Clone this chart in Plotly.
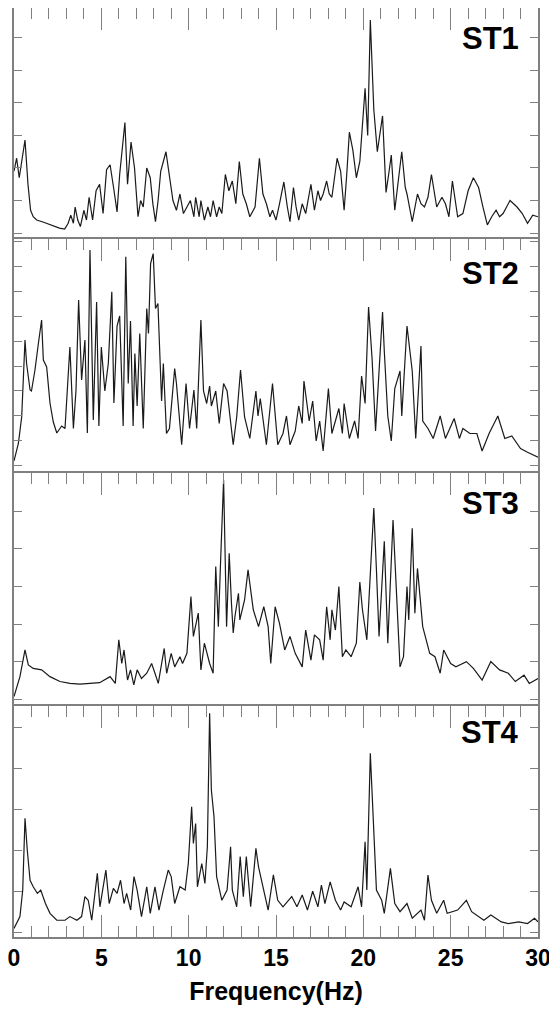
import plotly.graph_objects as go

# ---------------- data ----------------
st1_freq = [0, 0.15, 0.3, 0.45, 0.63, 0.8, 0.95, 1.1, 1.3, 1.7, 2.2, 2.6, 2.9, 3.1, 3.25, 3.4, 3.5, 3.65, 3.8, 4.0,
            4.15, 4.3, 4.5, 4.7, 4.9, 5.1, 5.3, 5.5, 5.7, 5.9, 6.05, 6.2, 6.35, 6.5, 6.7, 6.9, 7.1, 7.25, 7.4, 7.6,
            7.8, 7.95, 8.1, 8.25, 8.4, 8.7, 8.9, 9.1, 9.3, 9.5, 9.7, 9.9, 10.1, 10.3, 10.4, 10.6, 10.7, 10.9, 11.1, 11.25,
            11.4, 11.6, 11.75, 11.9, 12.1, 12.3, 12.5, 12.7, 12.9, 13.1, 13.3, 13.5, 13.8, 14.05, 14.25, 14.45, 14.65, 14.8, 15.0, 15.2,
            15.45, 15.65, 15.8, 16.0, 16.15, 16.3, 16.5, 16.7, 16.85, 17.0, 17.2, 17.4, 17.55, 17.7, 17.9, 18.05, 18.2, 18.35, 18.5, 18.7,
            18.9, 19.05, 19.2, 19.4, 19.6, 19.8, 20.0, 20.1, 20.25, 20.4, 20.6, 20.8, 21.1, 21.3, 21.45, 21.6, 21.8, 22.0, 22.2, 22.4,
            22.5, 22.8, 23.1, 23.3, 23.5, 23.7, 23.9, 24.2, 24.5, 24.7, 24.9, 25.1, 25.25, 25.4, 25.7, 26.0, 26.3, 26.6, 26.85, 27.1,
            27.35, 27.6, 27.8, 28.0, 28.2, 28.4, 28.6, 28.8, 29.1, 29.4, 29.7, 30.0]
st1_amp = [1.9, 2.3, 1.7, 2.2, 2.86, 1.5, 0.7, 0.5, 0.4, 0.33, 0.22, 0.15, 0.12, 0.3, 0.55, 0.3, 0.8, 0.4, 0.2, 0.7,
           0.4, 1.1, 0.4, 1.3, 1.5, 0.6, 1.95, 2.1, 1.4, 0.65, 1.8, 2.55, 3.4, 1.5, 2.8, 2.0, 0.5, 1.0, 0.8, 2.0,
           1.7, 0.9, 0.35, 1.0, 1.9, 2.5, 1.8, 1.0, 0.7, 1.2, 0.6, 0.8, 1.0, 0.5, 1.1, 0.5, 1.0, 0.4, 0.8, 0.5,
           1.0, 0.5, 0.8, 0.6, 1.8, 1.3, 1.6, 0.9, 2.2, 1.2, 0.9, 0.5, 0.8, 2.3, 1.2, 0.9, 0.5, 0.7, 0.4, 0.9,
           1.57, 0.8, 0.35, 1.4, 0.8, 0.4, 0.9, 0.6, 1.0, 1.5, 0.7, 1.3, 1.0, 1.2, 1.6, 1.2, 1.1, 1.8, 2.3, 1.9,
           0.7, 1.8, 3.1, 2.55, 1.7, 2.2, 3.6, 4.45, 3.0, 6.55, 3.8, 2.5, 3.6, 1.25, 1.8, 2.4, 0.7, 1.6, 2.5, 1.4,
           1.2, 0.35, 1.2, 0.9, 0.8, 1.1, 1.8, 0.8, 1.1, 0.9, 0.5, 1.6, 1.0, 0.5, 0.6, 1.3, 1.7, 1.4, 0.8, 0.25,
           0.5, 0.7, 0.5, 0.6, 0.8, 1.0, 0.9, 0.8, 0.6, 0.3, 0.55, 0.5]

st2_freq = [0, 0.25, 0.44, 0.63, 0.72, 0.92, 1.0, 1.2, 1.4, 1.58, 1.68, 1.87, 2.06, 2.25, 2.45, 2.6, 2.73, 2.92, 3.0, 3.2,
            3.4, 3.55, 3.7, 3.87, 4.06, 4.2, 4.35, 4.54, 4.73, 4.86, 5.0, 5.2, 5.4, 5.6, 5.72, 5.9, 6.05, 6.25, 6.4, 6.54,
            6.67, 6.82, 6.92, 7.05, 7.2, 7.4, 7.6, 7.7, 7.82, 7.97, 8.1, 8.24, 8.45, 8.55, 8.73, 8.9, 9.2, 9.3, 9.6, 9.85,
            10.05, 10.3, 10.46, 10.7, 10.85, 11.03, 11.2, 11.3, 11.55, 11.75, 12.0, 12.2, 12.55, 12.75, 12.97, 13.2, 13.5, 13.85, 13.97, 14.1,
            14.45, 14.8, 15.1, 15.4, 15.6, 15.8, 16.1, 16.3, 16.5, 16.6, 16.9, 17.1, 17.3, 17.5, 17.7, 18.0, 18.2, 18.6, 18.8, 18.9,
            19.2, 19.5, 19.7, 19.9, 20.1, 20.3, 20.5, 20.7, 20.9, 21.1, 21.2, 21.4, 21.6, 21.8, 22.1, 22.2, 22.5, 22.8, 23.0, 23.3,
            23.4, 23.7, 24.0, 24.4, 24.7, 25.2, 25.5, 25.7, 26.1, 26.5, 26.8, 27.2, 27.7, 28.1, 28.5, 29.0, 29.4, 30.0]
st2_amp = [0.2, 0.9, 1.96, 5.04, 4.1, 3.04, 3.0, 3.84, 4.92, 5.84, 4.24, 3.96, 2.52, 1.76, 1.32, 1.5, 1.6, 1.5, 2.5, 4.76,
           1.5, 3.04, 6.64, 3.44, 5.04, 1.32, 8.64, 1.84, 6.56, 1.6, 4.76, 3.0, 4.1, 6.97, 2.52, 5.6, 6.0, 1.6, 8.37, 3.3,
           5.8, 1.6, 4.5, 2.4, 5.3, 1.5, 6.3, 5.3, 8.1, 8.5, 6.3, 6.5, 2.6, 4.1, 1.3, 1.5, 3.9, 3.3, 0.85, 3.3,
           1.5, 3.04, 1.5, 5.84, 3.0, 2.5, 3.2, 2.4, 3.0, 1.7, 3.3, 3.0, 0.85, 1.96, 3.84, 1.96, 1.1, 3.0, 2.0, 2.7,
           0.85, 3.3, 0.85, 1.3, 2.0, 0.85, 1.4, 2.4, 1.7, 3.4, 1.8, 2.6, 1.0, 1.8, 0.6, 3.1, 1.3, 2.3, 1.3, 2.5,
           1.1, 1.8, 1.1, 3.6, 2.5, 6.36, 4.3, 1.4, 3.8, 6.16, 4.6, 2.0, 1.0, 3.1, 3.8, 2.0, 5.6, 3.8, 1.1, 4.8,
           1.8, 1.5, 1.1, 2.0, 1.1, 1.9, 1.1, 1.5, 1.3, 1.3, 0.6, 1.3, 2.0, 1.1, 1.2, 0.7, 0.55, 0.35]

st3_freq = [0, 0.34, 0.63, 0.82, 1.1, 1.58, 2.06, 2.63, 3.2, 3.77, 4.35, 4.9, 5.5, 5.8, 6.0, 6.17, 6.3, 6.5, 6.67, 6.86,
            7.05, 7.3, 7.6, 7.88, 8.07, 8.26, 8.6, 8.74, 9.0, 9.2, 9.5, 9.65, 9.9, 10.13, 10.27, 10.55, 10.7, 10.9, 11.2, 11.4,
            11.55, 11.7, 11.83, 12.0, 12.17, 12.32, 12.45, 12.55, 12.65, 12.85, 12.93, 13.2, 13.4, 13.7, 14.0, 14.3, 14.55, 14.7, 14.95, 15.2,
            15.5, 15.8, 16.1, 16.5, 16.7, 17.0, 17.2, 17.5, 17.7, 17.9, 18.1, 18.2, 18.4, 18.6, 18.8, 19.0, 19.3, 19.6, 19.8, 19.95,
            20.2, 20.45, 20.6, 20.75, 20.9, 21.2, 21.4, 21.7, 21.85, 22.1, 22.3, 22.5, 22.6, 22.8, 22.95, 23.1, 23.4, 23.6, 23.8, 24.1,
            24.4, 24.6, 25.0, 25.3, 25.9, 26.3, 26.8, 27.3, 27.8, 28.3, 28.7, 29.2, 29.5, 30.0]
st3_amp = [0.07, 0.6, 1.31, 0.91, 0.82, 0.78, 0.6, 0.47, 0.42, 0.4, 0.42, 0.44, 0.6, 0.42, 1.58, 0.95, 1.31, 0.51, 0.78, 0.38,
           0.78, 0.55, 0.69, 0.95, 0.69, 0.42, 1.35, 0.69, 1.22, 0.86, 1.13, 0.95, 1.22, 2.73, 1.67, 2.29, 0.78, 1.49, 0.95, 0.69,
           3.53, 1.93, 3.7, 5.83, 1.93, 3.88, 2.55, 1.76, 2.2, 2.82, 2.11, 2.64, 3.44, 2.38, 1.93, 2.46, 1.93, 0.95, 2.46, 2.02,
           1.31, 1.67, 1.22, 0.86, 1.84, 1.04, 1.71, 1.58, 1.04, 2.46, 1.58, 2.38, 1.84, 3.0, 1.13, 1.31, 1.13, 1.49, 3.12, 2.38,
           1.58, 3.7, 5.09, 3.44, 1.67, 4.2, 1.49, 4.77, 3.26, 0.86, 1.13, 3.0, 2.11, 4.55, 2.29, 3.48, 1.93, 1.58, 1.22, 1.13,
           0.69, 1.31, 0.95, 0.86, 1.0, 0.82, 0.51, 1.0, 0.78, 0.69, 0.47, 0.64, 0.42, 0.55]

st4_freq = [0, 0.34, 0.5, 0.63, 0.76, 0.92, 1.1, 1.34, 1.53, 1.8, 2.06, 2.45, 2.92, 3.2, 3.6, 3.87, 4.06, 4.25, 4.45, 4.77,
            4.92, 5.26, 5.45, 5.69, 5.9, 6.1, 6.3, 6.45, 6.68, 6.87, 7.05, 7.3, 7.6, 7.8, 8.07, 8.3, 8.55, 8.83, 9.0, 9.2,
            9.5, 9.8, 9.98, 10.17, 10.27, 10.4, 10.5, 10.75, 10.93, 11.07, 11.2, 11.3, 11.45, 11.6, 11.9, 12.2, 12.4, 12.5, 12.75, 12.95,
            13.13, 13.3, 13.55, 13.85, 14.0, 14.3, 14.55, 14.85, 15.1, 15.4, 15.9, 16.2, 16.5, 16.8, 17.1, 17.4, 17.6, 17.8, 18.1, 18.4,
            18.7, 18.9, 19.3, 19.7, 19.9, 20.1, 20.2, 20.4, 20.55, 20.75, 21.05, 21.2, 21.55, 21.8, 22.1, 22.5, 22.8, 23.3, 23.5, 23.7,
            23.9, 24.2, 24.6, 24.8, 25.4, 25.9, 26.2, 26.6, 26.9, 27.3, 27.9, 28.3, 28.9, 29.4, 29.8, 30.0]
st4_amp = [0.09, 0.38, 1.03, 2.79, 2.01, 1.27, 1.11, 0.95, 1.03, 0.7, 0.46, 0.29, 0.29, 0.38, 0.29, 0.38, 0.87, 0.78, 0.29, 1.44,
           0.62, 1.52, 0.7, 1.07, 0.95, 1.27, 0.7, 0.95, 0.54, 1.36, 1.03, 0.38, 1.11, 0.46, 1.11, 0.54, 1.03, 1.52, 1.36, 0.7,
           1.11, 1.03, 1.68, 3.07, 2.17, 2.66, 1.11, 1.68, 1.19, 2.09, 5.36, 3.48, 2.83, 1.36, 0.78, 1.03, 2.09, 1.03, 0.62, 1.85,
           0.87, 1.85, 0.62, 2.05, 1.6, 1.03, 0.54, 1.4, 0.78, 0.62, 0.87, 0.62, 0.91, 0.54, 1.0, 0.62, 1.15, 0.7, 1.23, 0.78,
           0.54, 0.74, 0.62, 1.11, 0.62, 2.21, 1.03, 4.38, 2.99, 1.03, 0.78, 0.46, 1.56, 0.7, 0.5, 0.7, 0.34, 0.54, 0.29, 1.4,
           0.78, 0.46, 0.78, 0.46, 0.54, 0.78, 0.5, 0.38, 0.29, 0.42, 0.25, 0.21, 0.25, 0.21, 0.34, 0.25]

station_labels = ["ST1", "ST2", "ST3", "ST4"]
x_tick_values = [0, 5, 10, 15, 20, 25, 30]
x_title = "Frequency(Hz)"

# ---------------- figure ----------------
series = [(st1_freq, st1_amp), (st2_freq, st2_amp), (st3_freq, st3_amp), (st4_freq, st4_amp)]
domains = [[0.7513, 1.0], [0.4995, 0.7513], [0.2487, 0.4995], [0.0, 0.2487]]
y_ranges = [[-0.185, 6.92], [-0.28, 9.08], [-0.18, 6.02], [-0.12, 5.54]]
label_y = [0.9882, 0.7352, 0.4876, 0.2411]

AXC = "#808080"
FONT = "Liberation Sans"

fig = go.Figure()
for i, (fx, fy) in enumerate(series):
    sfx = "" if i == 0 else str(i + 1)
    fig.add_trace(go.Scatter(x=fx, y=fy, mode="lines", xaxis="x" + sfx, yaxis="y" + sfx,
                             line=dict(color="#1a1a1a", width=1.2), showlegend=False,
                             hoverinfo="skip"))
    last = (i == 3)
    xa = dict(domain=[0, 1], anchor="y" + sfx, range=[0, 30],
              showline=True, linecolor=AXC, linewidth=1.5,
              ticks="inside", tickmode="array", tickvals=x_tick_values, ticklen=22, tickwidth=1.2,
              tickcolor=AXC, showgrid=False, zeroline=False,
              minor=dict(dtick=1, ticks="inside", ticklen=11, tickwidth=1.2, tickcolor=AXC, showgrid=False),
              fixedrange=True)
    if last:
        xa.update(side="bottom", mirror="ticks", showticklabels=True, ticklabeloverflow="allow",
                  tickfont=dict(family=FONT, size=23, color="black", weight="bold"),
                  title=dict(text=x_title, font=dict(family=FONT, size=25, color="black", weight="bold"),
                             standoff=12))
    else:
        # top edge with ticks; the bottom edge is the next panel's top line
        xa.update(side="top", mirror=False, showticklabels=False, matches="x4")
    ya = dict(domain=domains[i], anchor="x" + sfx, range=y_ranges[i],
              showline=True, linecolor=AXC, linewidth=1.5, mirror="ticks",
              ticks="inside", dtick=1, tick0=0, ticklen=8, tickwidth=1.2, tickcolor=AXC,
              showticklabels=False, showgrid=False, zeroline=False, fixedrange=True)
    fig.layout["xaxis" + sfx] = xa
    fig.layout["yaxis" + sfx] = ya
    fig.add_annotation(text="<b>" + station_labels[i] + "</b>", xref="paper", yref="paper",
                       x=0.9676, y=label_y[i], xanchor="right", yanchor="top", showarrow=False,
                       font=dict(family=FONT, size=31, color="black"))

# the page body has an 8px default margin, so the figure is sized to the remaining space
fig.update_layout(width=549, height=1006, margin=dict(l=6, r=19, t=0, b=77),
                  paper_bgcolor="white", plot_bgcolor="white")

fig.write_html("out.html")
